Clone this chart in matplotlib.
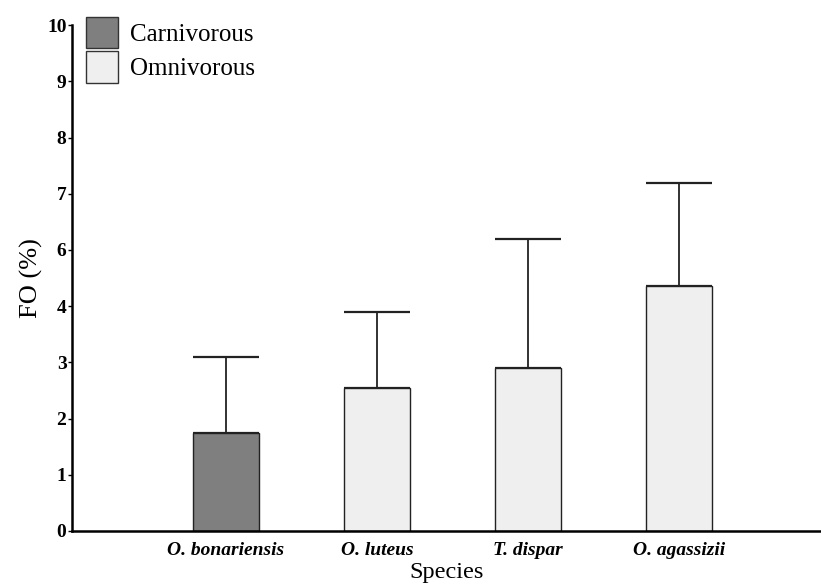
import numpy as np
import matplotlib.pyplot as plt
from matplotlib.patches import Patch

# values read on the drawn scale (the original axis skips the "5" label)
species = ['O. bonariensis', 'O. luteus', 'T. dispar', 'O. agassizii']
diet = ['Carnivorous', 'Omnivorous', 'Omnivorous', 'Omnivorous']
fo_mean = [1.74, 2.54, 2.90, 4.36]
fo_upper = [3.10, 3.89, 5.20, 6.19]
ytick_pos = [0, 1, 2, 3, 4, 5, 6, 7, 8, 9]
ytick_labels = ['0', '1', '2', '3', '4', '6', '7', '8', '9', '10']

colors = {'Carnivorous': '#7f7f7f', 'Omnivorous': '#efefef'}

plt.rcParams['font.family'] = ['Liberation Serif', 'DejaVu Serif']

fig = plt.figure(figsize=(8.21, 5.86), dpi=100)
ax = fig.add_axes([0.0877, 0.094, 0.9123, 0.863])

x = np.arange(len(species))
err = np.array(fo_upper) - np.array(fo_mean)
ax.bar(x, fo_mean, width=0.44, color=[colors[d] for d in diet],
       edgecolor='#222222', linewidth=1.0, zorder=2)
ax.errorbar(x, fo_mean, yerr=[np.zeros_like(err), err], fmt='none',
            ecolor='#222222', elinewidth=1.3, capsize=24, capthick=1.6, zorder=1)

ax.set_xlim(-1.02, 3.94)
ax.set_ylim(0, 9)
ax.set_yticks(ytick_pos)
ax.set_yticklabels(ytick_labels, fontsize=14, fontweight='bold')
ax.set_xticks(x)
ax.set_xticklabels(species, fontsize=14, fontweight='bold', style='italic')
ax.tick_params(axis='x', length=0, pad=8)
ax.tick_params(axis='y', length=3, width=1, pad=1)

for s in ['top', 'right']:
    ax.spines[s].set_visible(False)
ax.spines['left'].set_linewidth(1.8)
ax.spines['bottom'].set_linewidth(1.8)

ax.set_ylabel('FO (%)', fontsize=19, labelpad=3)
ax.set_xlabel('Species', fontsize=17.5, labelpad=2)

handles = [Patch(facecolor=colors[k], edgecolor='#333333', linewidth=1.0)
           for k in ['Carnivorous', 'Omnivorous']]
ax.legend(handles, ['Carnivorous', 'Omnivorous'], loc='upper left',
          bbox_to_anchor=(-0.005, 1.051), frameon=False, fontsize=18,
          handlelength=1.3, handleheight=1.55, handletextpad=0.45,
          labelspacing=0.12, borderaxespad=0.3)

fig.savefig('out.png', dpi=100)
